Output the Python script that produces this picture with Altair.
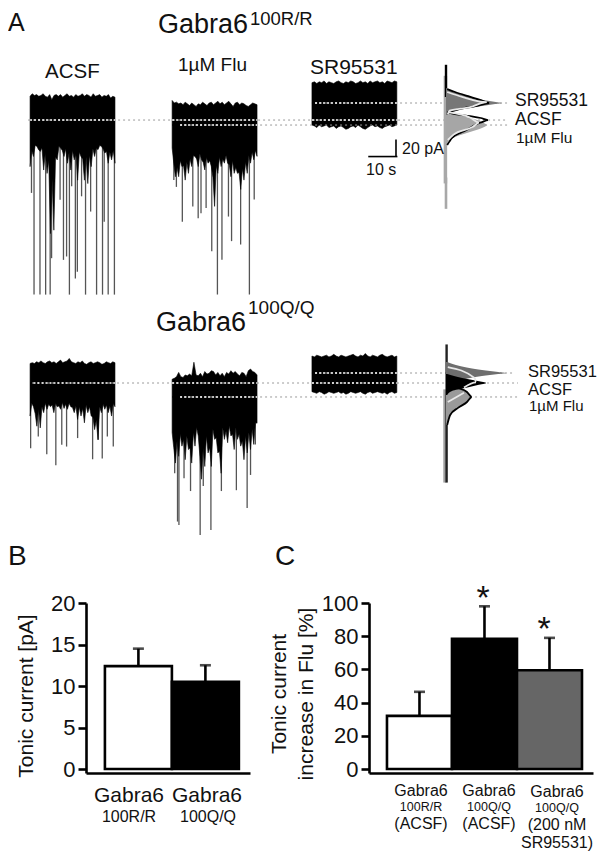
import altair as alt
import pandas as pd
import numpy as np

W, H = 589, 845
FONT = "Liberation Sans"
INK = "#111111"

# ---------- traces: current in pA relative to each baseline, time in s ----------
LEVEL = dict(r_acsf=-132.2, r_sr=-112.1, r_flu=-138.1, q_acsf=-442.5, q_sr=-430.7, q_flu=-459.0)
START = dict(a=7.8, f=58.0, s=107.4)

r_acsf_up = [28,31,29,30,28,29,31,28,27,30,24,29,30,28,30,27,29,31,28,29,27,30,28,29,31,28,30,29,27,31,28,29,30,27,29,28,30,26,28,27]
r_acsf_lo = [-55,-36,-43,-30,-31,-35,-37,-33,-59,-38,-63,-48,-134,-70,-130,-44,-47,-31,-33,-36,-43,-34,-51,-38,-59,-36,-47,-40,-71,-38,-43,-46,-71,-44,-75,-42,-55,-34,-43,-33,-35,-30,-31,-34,-39,-37,-51,-38,-47,-36,-51]
r_acsf_sp_t = [.5,1.4,3.5,5.5,7.1,7.6,11.8,12.9,13.9,16,16.7,19.6,21.4,23.5,25.6,26.2,27.6,29.8,18.2,14.7,10.6]
r_acsf_sp_v = [-86,-206,-206,-206,-206,-163,-165,-161,-206,-187,-179,-206,-108,-206,-206,-120,-206,-206,-90,-78,-94]

r_flu_up = [29,26,27,25,26,24,27,25,23,26,24,22,25,24,27,25,23,26,27,24,26,28,25,27,24,26,28,25,22,26,27,24,26,25,23,22,24,26,25,24]
r_flu_lo = [-27,-45,-61,-50,-61,-42,-49,-48,-65,-44,-57,-40,-49,-36,-37,-40,-49,-34,-41,-44,-53,-38,-45,-42,-49,-62,-96,-48,-57,-38,-49,-40,-45,-36,-45,-47,-61,-42,-57,-50,-57,-56,-76,-52,-65,-44,-57,-36,-45,-32,-41,-30,-37]
r_flu_sp_t = [.6,3.6,7.3,9.2,10.2,12,14,16,17.6,19.9,21,24.2,27.3,29,1.5]
r_flu_sp_v = [-65,-114,-96,-110,-104,-98,-149,-200,-159,-108,-137,-141,-200,-88,-73]

r_sr_up = [24,25,23,25,24,26,23,25,24,23,25,26,24,23,25,24,26,25,23,24,26,24,25,23,26,24,25,26,24,25,23,26,25,24,26,25]
r_sr_lo = [-26,-27,-29,-26,-28,-27,-26,-29,-28,-27,-30,-28,-27,-29,-31,-30,-28,-27,-29,-26,-28,-30,-31,-29,-27,-26,-28,-27,-29,-30,-28,-27,-26,-28,-27,-26]

q_acsf_up = [23,24,23,25,24,26,24,23,25,26,24,25,23,25,27,24,25,26,29,25,24,23,25,24,26,23,22,24,25,23,24,25,24,22,23,25,24,23,25,24]
q_acsf_lo = [-39,-24,-28,-36,-51,-30,-53,-28,-35,-24,-31,-25,-28,-26,-35,-24,-28,-27,-31,-23,-30,-25,-31,-24,-28,-29,-35,-27,-43,-28,-39,-30,-47,-26,-35,-28,-39,-40,-55,-44,-67,-28,-35,-25,-31,-26,-35,-27,-39,-24,-28]
q_acsf_sp_t = [.2,2.9,5.9,9.1,11.2,12.9,16.8,22.1,25.5,27.3,29.4,24.1]
q_acsf_sp_v = [-77,-63,-84,-97,-73,-75,-65,-90,-89,-63,-75,-67]

q_flu_up = [21,22,24,29,24,23,26,25,27,25,41,26,25,28,24,30,27,28,31,30,26,29,25,28,24,29,27,31,28,30,27,25,29,28,24,31,33,30,29,26]
q_flu_lo = [-42,-60,-78,-52,-70,-44,-58,-50,-74,-46,-62,-60,-78,-42,-58,-36,-46,-70,-97,-60,-82,-46,-66,-60,-82,-38,-50,-48,-66,-64,-90,-36,-50,-40,-54,-34,-46,-44,-62,-36,-50,-44,-58,-52,-74,-46,-66,-42,-62,-38,-56,-30,-31]
q_flu_sp_t = [.9,1.9,2.4,4.2,6.5,9.9,11,13.7,17.4,22.7,26.5,27.7,29.4]
q_flu_sp_v = [-90,-147,-151,-96,-111,-163,-105,-157,-111,-110,-131,-92,-56]

q_sr_up = [20,19,21,20,19,20,21,19,20,22,20,19,21,20,19,20,21,22,20,19,21,20,23,20,19,21,20,19,21,22,20,19,20,21,19,20]
q_sr_lo = [-22,-23,-24,-22,-23,-25,-24,-22,-23,-24,-23,-22,-24,-23,-25,-24,-22,-23,-24,-23,-22,-24,-25,-23,-22,-24,-23,-22,-23,-24,-23,-25,-23,-22,-24,-23]

TRACES = [
    ("r_acsf", "a", r_acsf_up, r_acsf_lo, r_acsf_sp_t, r_acsf_sp_v),
    ("r_flu", "f", r_flu_up, r_flu_lo, r_flu_sp_t, r_flu_sp_v),
    ("r_sr", "s", r_sr_up, r_sr_lo, [], []),
    ("q_acsf", "a", q_acsf_up, q_acsf_lo, q_acsf_sp_t, q_acsf_sp_v),
    ("q_flu", "f", q_flu_up, q_flu_lo, q_flu_sp_t, q_flu_sp_v),
    ("q_sr", "s", q_sr_up, q_sr_lo, [], []),
]

# reference lines: level, from s, to s
grey_lines = [("r_acsf",7.1,176.3),("r_flu",60.8,177.4),("r_sr",108.5,176.7),
              ("q_acsf",8.5,180.2),("q_flu",60.8,180.6),("q_sr",108.5,179)]
white_lines = [("r_acsf",7.8,37.8),("r_acsf",58,88),("r_acsf",107.4,137.4),("r_flu",60.8,88),("r_sr",108.5,137.4),
               ("q_acsf",9,37.8),("q_acsf",58,88),("q_acsf",107.4,137.4),("q_flu",60.8,88),("q_sr",108.5,137.4)]

# ---------- amplitude histograms: count, pA from level ----------
r_sr_fill_c = [0,15,35,62,83,93,82,60,37,15,2]
r_sr_fill_v = [17.7,12.8,8.3,3.5,1.2,0,-1.2,-3.5,-5.9,-9.4,-14.2]
r_sr_line_c = [2,15,37,58,72,52,30,8]
r_sr_line_v = [16.5,13,8,3.5,0,-3.5,-6,-10]
r_acsf_line_c = [2,15,40,58,70,60,48,40,27,10,2]
r_acsf_line_v = [9.4,7,4.7,2.4,0,-2.4,-5.9,-9.4,-14.2,-21.2,-29.5]
r_flu_fill_c = [3,27,52,63,68,60,40,15,3,0]
r_flu_fill_v = [15.3,10.6,5.9,2.4,0,-3.5,-8.3,-14.2,-20,-29.5]
r_fit1_c = [2,28,68,40,6,3]
r_fit1_v = [13,7,1,-5,-9,-13]
r_fit2_c = [3,12,45,55,40,5]
r_fit2_v = [-23.5,-17.5,-8,-3,3,9]

q_sr_fill_c = [2,23,60,87,100,87,60,32,10,2]
q_sr_fill_v = [13,8.3,3.5,1.2,0,-1.2,-3.5,-7,-11.8,-17.7]
q_acsf_fill_c = [2,27,53,67,53,32,10,2]
q_acsf_fill_v = [10.6,5.9,2.4,0,-2.4,-5.9,-9.4,-14.2]
q_flu_fill_c = [2,20,35,43,35,20,7,2]
q_flu_fill_v = [15.3,10.6,5.9,0,-5.9,-12.9,-21.2,-33]
q_fit1_c = [3,48,50,30]
q_fit1_v = [7,-6,-11,-17]
q_fit2_c = [30,3]
q_fit2_v = [5,-6]

# ---------- bars ----------
b_groups = ["100R/R", "100Q/Q"]
b_means = [12.4, 10.5]
b_tops = [14.5, 12.5]
b_fills = ["#ffffff", "#000000"]
c_groups = ["RR ACSF", "QQ ACSF", "QQ SR95531"]
c_means = [32, 78.5, 59.5]
c_tops = [46.5, 98, 79]
c_fills = ["#ffffff", "#000000", "#666666"]

# ---------- scales ----------
xT = alt.Scale(domain=[0, W/2.83], range=[0, W], nice=False, zero=False)
yT = alt.Scale(domain=[0, -637.2], range=[0, 540], nice=False, zero=False)
xH = alt.Scale(domain=[0, 100], range=[438, 498], nice=False, zero=False)

# trace layer
rows_area, rows_sp = [], []
for name, st, up, lo, sp_t, sp_v in TRACES:
    lv, t0 = LEVEL[name], START[st]
    for tag, arr in (("u", up), ("l", lo)):
        for t, v in zip(np.linspace(0, 30, len(arr)), arr):
            rows_area.append(dict(id=name+tag, t=t0+t, v=lv+v, lv=lv))
    for t, v in zip(sp_t, sp_v):
        rows_sp.append(dict(t=t0+t, v=lv+v, lv=lv))
df_area = pd.DataFrame(rows_area)
df_sp = pd.DataFrame(rows_sp)
df_grey = pd.DataFrame([dict(lv=LEVEL[a], t0=b, t1=c) for a,b,c in grey_lines])
df_white = pd.DataFrame([dict(lv=LEVEL[a], t0=b, t1=c) for a,b,c in white_lines])

Xt = alt.X("t:Q", scale=xT, axis=None)
Yt = alt.Y("v:Q", scale=yT, axis=None)
spikes = alt.Chart(df_sp).mark_rule(color="#555555", strokeWidth=1.3).encode(Xt, Yt, y2="lv:Q")
areas = alt.Chart(df_area).mark_area(color="#000000", stroke="#000000", strokeWidth=0.6, interpolate="linear").encode(Xt, Yt, y2="lv:Q", detail="id:N")
greys = alt.Chart(df_grey).mark_rule(color="#9a9a9a", strokeWidth=1, strokeDash=[2,3]).encode(
    x=alt.X("t0:Q", scale=xT, axis=None), x2="t1:Q", y=alt.Y("lv:Q", scale=yT, axis=None))
whites = alt.Chart(df_white).mark_rule(color="#ffffff", strokeWidth=1.4, strokeDash=[2,2]).encode(
    x=alt.X("t0:Q", scale=xT, axis=None), x2="t1:Q", y=alt.Y("lv:Q", scale=yT, axis=None))
bar_x = alt.Chart(pd.DataFrame(dict(t=[127.3], t2=[137.6], v=[-175.3]))).mark_rule(color="#000", strokeWidth=1.6).encode(
    x=alt.X("t:Q", scale=xT, axis=None), x2="t2:Q", y=alt.Y("v:Q", scale=yT, axis=None))
bar_y = alt.Chart(pd.DataFrame(dict(t=[137.1], v=[-175.3], v2=[-155.3]))).mark_rule(color="#000", strokeWidth=1.6).encode(
    x=alt.X("t:Q", scale=xT, axis=None), y=alt.Y("v:Q", scale=yT, axis=None), y2="v2:Q")
traces = alt.layer(spikes, areas, greys, whites, bar_x, bar_y)

# histogram layer
def hist_df(level, c, v):
    return pd.DataFrame(dict(c=c, v=[LEVEL[level]+x for x in v]))
Xh = alt.X("c:Q", scale=xH, axis=None)
Yh = alt.Y("v:Q", scale=yT, axis=None)
def fill(level, c, v, col):
    return alt.Chart(hist_df(level, c, v)).mark_area(color=col, orient="horizontal", interpolate="monotone").encode(
        x=Xh, x2=alt.X2(datum=0), y=Yh)
def line(level, c, v, col, w=1.8):
    return alt.Chart(hist_df(level, c, v).reset_index()).mark_line(color=col, strokeWidth=w, interpolate="monotone").encode(
        x=Xh, y=Yh, order="index:Q")
def stem(c, a, b, col, w):
    return alt.Chart(pd.DataFrame(dict(c=[c], v=[a], v2=[b]))).mark_rule(color=col, strokeWidth=w).encode(x=Xh, y=Yh, y2="v2:Q")

hists = alt.layer(
    stem(-1, -80, -207, "#a8a8a8", 3.5),
    stem(0, -200, -237, "#a8a8a8", 2.6),
    stem(0, -67, -105, "#000000", 2.4),
    fill("r_flu", r_flu_fill_c, r_flu_fill_v, "#a6a6a6"),
    fill("r_sr", r_sr_fill_c, r_sr_fill_v, "#777777"),
    line("r_sr", r_sr_line_c, r_sr_line_v, "#000000"),
    line("r_acsf", r_acsf_line_c, r_acsf_line_v, "#000000"),
    line("r_sr", r_fit1_c, r_fit1_v, "#e8e8e8"),
    line("r_acsf", r_fit2_c, r_fit2_v, "#e8e8e8"),
    stem(-2, -450, -560, "#a0a0a0", 3),
    stem(1, -397, -560, "#222222", 2.4),
    fill("q_flu", q_flu_fill_c, q_flu_fill_v, "#9a9a9a"),
    line("q_flu", q_flu_fill_c, q_flu_fill_v, "#000000"),
    fill("q_sr", q_sr_fill_c, q_sr_fill_v, "#6e6e6e"),
    fill("q_acsf", q_acsf_fill_c, q_acsf_fill_v, "#000000"),
    line("q_sr", q_fit1_c, q_fit1_v, "#e8e8e8"),
    line("q_flu", q_fit2_c, q_fit2_v, "#e8e8e8"),
)

# bar panels
def bars(groups, means, tops, fills, xr, yr, ydom, yticks, pad, align, cap):
    df = pd.DataFrame(dict(g=groups, m=means, t=tops))
    xs = alt.Scale(domain=groups, range=xr, paddingInner=0, paddingOuter=pad, align=align)
    ys = alt.Scale(domain=ydom, range=yr, nice=False, zero=False)
    xax = alt.Axis(orient="bottom", offset=yr[0]-H, labels=False, ticks=False, title=None, grid=False,
                   domainColor="#000", domainWidth=2.6)
    yax = alt.Axis(orient="left", offset=-xr[0], values=yticks, title=None, grid=False,
                   domainColor="#000", domainWidth=2.6, tickColor="#000", tickWidth=2.6, tickSize=8,
                   labelFontSize=22, labelColor=INK, labelFont=FONT, labelPadding=3)
    xenc = alt.X("g:N", scale=xs, sort=groups, axis=xax)
    b = alt.Chart(df).mark_bar(stroke="#000", strokeWidth=2.6).encode(
        x=xenc, y=alt.Y("m:Q", scale=ys, axis=yax), y2=alt.Y2(datum=0),
        fill=alt.Fill("g:N", scale=alt.Scale(domain=groups, range=fills), legend=None))
    e = alt.Chart(df).mark_rule(color="#000", strokeWidth=2.6).encode(
        x=xenc, y=alt.Y("m:Q", scale=ys, axis=yax), y2="t:Q")
    c = alt.Chart(df).mark_tick(color="#000", thickness=2.6, size=cap, orient="horizontal").encode(
        x=xenc, y=alt.Y("t:Q", scale=ys, axis=yax))
    return alt.layer(e, c, b)

panel_b = bars(b_groups, b_means, b_tops, b_fills, [78, 242], [765, 595], [-0.48, 20], [0,5,10,15,20], .224, .63, 11)
panel_c = bars(c_groups, c_means, c_tops, c_fills, [361, 585], [765, 595], [-2.4, 100], [0,20,40,60,80,100], .223, .62, 11)

# text
def T(text, px, py, size, align="left", angle=0):
    return alt.Chart(pd.DataFrame(dict(s=[text]))).mark_text(
        font=FONT, fontSize=size, align=align, baseline="alphabetic", color=INK, angle=angle).encode(
        x=alt.value(px-8), y=alt.value(py-8), text="s:N")
labels = [
    T("A",8,31,25), T("B",8,565,28), T("C",275,565,28),
    T("Gabra6",158,33,27), T("100R/R",250,25,18.5),
    T("Gabra6",156,331,27), T("100Q/Q",248,314,19),
    T("ACSF",45,78,20.5), T("1µM Flu",178,71,19), T("SR95531",310,74,21),
    T("SR95531",515,106,17.5), T("ACSF",515,125,17.5), T("1µM Flu",516,143,15.5),
    T("20 pA",402,154,16), T("10 s",366,175,16),
    T("SR95531",528,377,16.5), T("ACSF",528,395,16.5), T("1µM Flu",529,411,15),
    T("Tonic current [pA]",33,696,21,"center",270),
    T("Gabra6",129,802,21,"center"), T("Gabra6",207,802,21,"center"),
    T("100R/R",129,822,16,"center"), T("100Q/Q",208,822,16,"center"),
    T("Tonic current",286,694,21,"center",270),
    T("increase in Flu [%]",313,694,21,"center",270),
    T("Gabra6",421,796,16,"center"), T("Gabra6",489,796,16,"center"), T("Gabra6",557,797,16,"center"),
    T("100R/R",421,811,12.5,"center"), T("100Q/Q",489,811,12.5,"center"), T("100Q/Q",557,812,12.5,"center"),
    T("(ACSF)",421,829,16,"center"), T("(ACSF)",489,829,16,"center"),
    T("(200 nM",557,830,16,"center"), T("SR95531)",557,848,16,"center"),
    T("*",483,609,34,"center"), T("*",544,640,34,"center"),
]

chart = alt.layer(traces, hists, panel_b, panel_c, *labels).resolve_scale(
    x="independent", y="independent", fill="independent"
).properties(width=W, height=H, padding=0, background="#ffffff",
             autosize=alt.AutoSizeParams(type="none")).configure_view(stroke=None)

chart.save("out.html", embed_options={"renderer": "svg", "actions": False})
